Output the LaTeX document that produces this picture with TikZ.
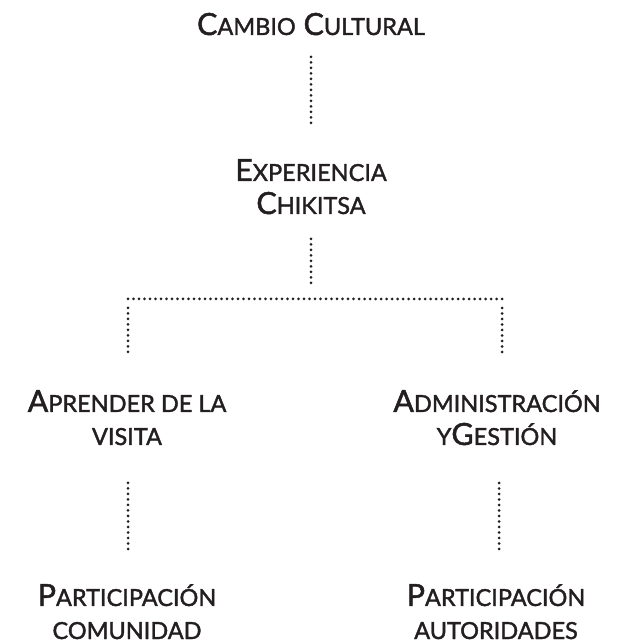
\documentclass[tikz,border=0pt]{standalone}
\usepackage{fontspec}
\setmainfont{Lato}[FakeBold=1.6]
\usetikzlibrary{positioning}
\definecolor{ink}{HTML}{231F20}
\newcommand\bigsc[1]{{\fontsize{30.5}{33}\selectfont #1}}
\newcommand\smallsc[1]{{\fontsize{23.5}{33}\selectfont #1}}
\tikzset{
  % --- nodes
  topic/.style = {align=center, inner sep=0pt, text=ink, anchor=base,
                  font=\fontsize{30.5}{33}\selectfont},
  % --- edges
  link/.style  = {draw=ink, line width=3pt, line cap=round,
                  dash pattern=on 0pt off 5.5pt},
}
\begin{document}
\begin{tikzpicture}[x=1pt,y=1pt]
  \useasboundingbox (0,0) rectangle (619,643);
  \node[topic] (cambio) at (311,608) {\bigsc{C}\smallsc{AMBIO} \bigsc{C}\smallsc{ULTURAL}};
  \node[topic] (exper)  at (311,429) {\bigsc{E}\smallsc{XPERIENCIA}\\\bigsc{C}\smallsc{HIKITSA}};
  \node[topic] (aprender) at (127,198) {\bigsc{A}\smallsc{PRENDER DE LA}\\\smallsc{VISITA}};
  \node[topic] (admin)    at (497,198) {\bigsc{A}\smallsc{DMINISTRACIÓN}\\\smallsc{Y}\bigsc{G}\smallsc{ESTIÓN}};
  \node[topic] (partcom)  at (127,4)   {\bigsc{P}\smallsc{ARTICIPACIÓN}\\\smallsc{COMUNIDAD}};
  \node[topic] (partaut)  at (496,4)   {\bigsc{P}\smallsc{ARTICIPACIÓN}\\\smallsc{AUTORIDADES}};
  % fork under the second level
  \coordinate (hub)   at (311,344);
  \coordinate (forkL) at (128,344);
  \coordinate (forkR) at (502,344);
  \draw[link, shorten <=22pt, shorten >=88pt] (cambio.base) -- (exper.base);
  \draw[link, shorten <=25pt, shorten >=16pt] (exper.base) -- (hub);
  \draw[link] (forkL) -- (forkR);
  \draw[link, shorten <=9pt, shorten >=93pt] (forkL) -- (forkL |- aprender.base);
  \draw[link, shorten <=9pt, shorten >=93pt] (forkR) -- (forkR |- admin.base);
  \draw[link, shorten <=38pt, shorten >=86pt] (forkL |- aprender.base) -- (forkL |- partcom.base);
  \draw[link, shorten <=38pt, shorten >=86pt] (499,0 |- admin.base) -- (499,0 |- partaut.base);
\end{tikzpicture}
\end{document}
